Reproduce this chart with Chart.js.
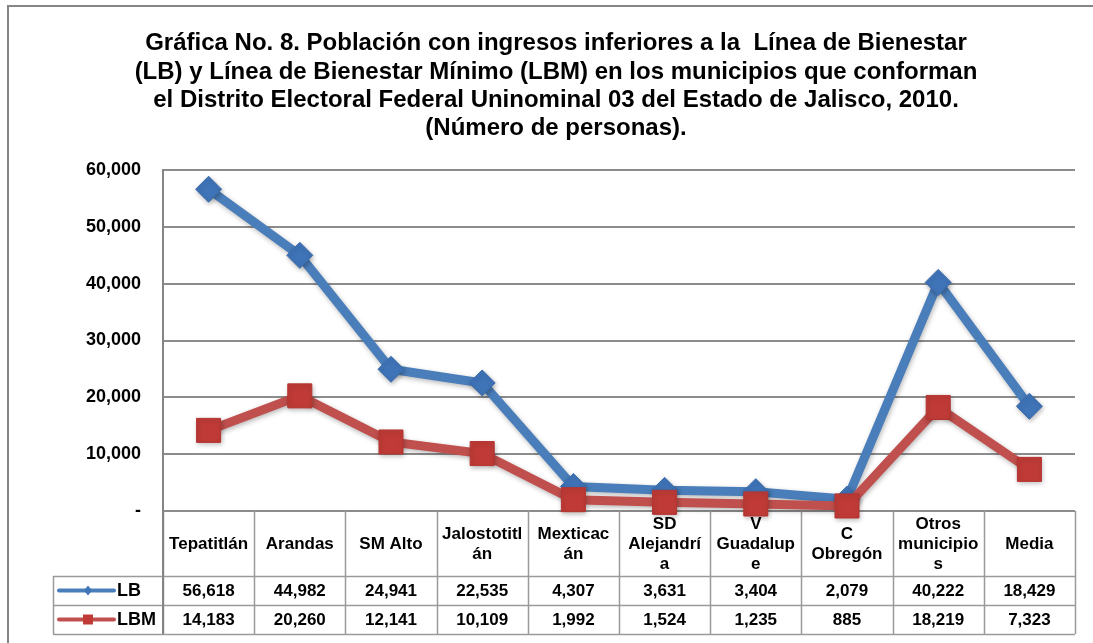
<!DOCTYPE html>
<html><head><meta charset="utf-8">
<script src="https://cdn.jsdelivr.net/npm/chart.js@4"></script>
<style>html,body{margin:0;padding:0;background:#fff}#wrap{width:1093px;height:643px;position:relative}</style>
</head><body><div id="wrap"><canvas id="c" width="1093" height="643"></canvas></div>
<script>
const titleLines = [
  "Gráfica No. 8. Población con ingresos inferiores a la  Línea de Bienestar",
  "(LB) y Línea de Bienestar Mínimo (LBM) en los municipios que conforman",
  "el Distrito Electoral Federal Uninominal 03 del Estado de Jalisco, 2010.",
  "(Número de personas)."
];
const categories = [["Tepatitlán"],["Arandas"],["SM Alto"],["Jalostotitl","án"],["Mexticac","án"],["SD","Alejandrí","a"],["V","Guadalup","e"],["C","Obregón"],["Otros","municipio","s"],["Media"]];
const seriesNames = ["LB","LBM"];
const seriesLB = [56618,44982,24941,22535,4307,3631,3404,2079,40222,18429];
const seriesLBM = [14183,20260,12141,10109,1992,1524,1235,885,18219,7323];
const yMin = 0, yMax = 60000, yStep = 10000;

const FONT = "'Liberation Sans', Arial, sans-serif";
const BLUE = '#4A7EBB', BLUE_M = '#3F74B8';
const RED = '#C0504D', RED_M = '#C03B37';
const fmt = v => v.toLocaleString('en-US');

const TABLE = {hdrBottom: 576, row1Bottom: 605, row2Bottom: 634, legendLeft: 53};

const framePlugin = {
  id: 'frame',
  beforeDraw(chart) {
    const ctx = chart.ctx;
    ctx.save();
    ctx.strokeStyle = '#858585'; ctx.lineWidth = 2;
    ctx.beginPath();
    ctx.moveTo(8, 643); ctx.lineTo(8, 6); ctx.lineTo(1093, 6);
    ctx.stroke();
    // title
    ctx.fillStyle = '#000';
    ctx.font = "bold 24px " + FONT;
    ctx.textAlign = 'center'; ctx.textBaseline = 'middle';
    const ys = [43, 72, 100, 128];
    titleLines.forEach((t, i) => ctx.fillText(t, 556, ys[i]));
    ctx.restore();
  }
};

const tablePlugin = {
  id: 'dataTable',
  beforeDatasetsDraw(chart) {
    const ctx = chart.ctx, xs = chart.scales.x, area = chart.chartArea;
    const n = categories.length;
    const w = (area.right - area.left) / n;
    ctx.save();
    ctx.strokeStyle = '#9a9a9a'; ctx.lineWidth = 1.5;
    ctx.beginPath();
    for (let i = 0; i <= n; i++) {
      const x = Math.round(area.left + i * w) + 0.5;
      ctx.moveTo(x, area.bottom); ctx.lineTo(x, TABLE.row2Bottom);
    }
    [TABLE.hdrBottom, TABLE.row1Bottom, TABLE.row2Bottom].forEach(y => {
      ctx.moveTo(TABLE.legendLeft, y + 0.5); ctx.lineTo(area.right, y + 0.5);
    });
    ctx.moveTo(TABLE.legendLeft + 0.5, TABLE.hdrBottom); ctx.lineTo(TABLE.legendLeft + 0.5, TABLE.row2Bottom);
    ctx.stroke();
    ctx.strokeStyle = '#858585'; ctx.lineWidth = 2;
    ctx.beginPath(); ctx.moveTo(area.left, area.bottom); ctx.lineTo(area.left, TABLE.row2Bottom); ctx.stroke();

    ctx.fillStyle = '#000';
    ctx.font = "bold 17px " + FONT;
    ctx.textAlign = 'center'; ctx.textBaseline = 'middle';
    const hc = (area.bottom + TABLE.hdrBottom) / 2 + 1;
    const lh = 20;
    categories.forEach((lines, i) => {
      const cx = xs.getPixelForValue(i);
      const y0 = hc - (lines.length - 1) * lh / 2;
      lines.forEach((l, j) => ctx.fillText(l, cx, y0 + j * lh));
    });
    const r1 = (TABLE.hdrBottom + TABLE.row1Bottom) / 2 + 1;
    const r2 = (TABLE.row1Bottom + TABLE.row2Bottom) / 2 + 1;
    seriesLB.forEach((v, i) => ctx.fillText(fmt(v), xs.getPixelForValue(i), r1));
    seriesLBM.forEach((v, i) => ctx.fillText(fmt(v), xs.getPixelForValue(i), r2));
    ctx.lineCap = 'round';
    ctx.lineWidth = 4;
    ctx.strokeStyle = BLUE;
    ctx.beginPath(); ctx.moveTo(59, r1 - 1); ctx.lineTo(114, r1 - 1); ctx.stroke();
    ctx.fillStyle = BLUE_M;
    ctx.beginPath(); ctx.moveTo(88, r1 - 6); ctx.lineTo(92, r1 - 1); ctx.lineTo(88, r1 + 4); ctx.lineTo(84, r1 - 1); ctx.closePath(); ctx.fill();
    ctx.strokeStyle = RED;
    ctx.beginPath(); ctx.moveTo(59, r2 - 1); ctx.lineTo(114, r2 - 1); ctx.stroke();
    ctx.fillStyle = RED_M;
    ctx.fillRect(83, r2 - 6, 10, 10);
    ctx.fillStyle = '#000';
    ctx.textAlign = 'left';
    ctx.font = "bold 18px " + FONT;
    ctx.fillText(seriesNames[0], 117, r1);
    ctx.fillText(seriesNames[1], 117, r2);
    ctx.restore();
  }
};

const shadowPlugin = {
  id: 'shadow',
  beforeDatasetDraw(chart) {
    const ctx = chart.ctx;
    ctx.save();
    ctx.shadowColor = 'rgba(0,0,0,0.28)';
    ctx.shadowBlur = 5; ctx.shadowOffsetX = 1; ctx.shadowOffsetY = 2;
  },
  afterDatasetDraw(chart) { chart.ctx.restore(); }
};

new Chart(document.getElementById('c'), {
  type: 'line',
  data: {
    labels: categories.map(c => c.join('')),
    datasets: [
      { label: seriesNames[0], data: seriesLB, borderColor: BLUE, borderWidth: 9,
        pointStyle: 'rectRot', pointRadius: 13, pointHoverRadius: 13,
        pointBackgroundColor: BLUE_M, pointBorderColor: '#3A6BAA', pointBorderWidth: 1,
        tension: 0, clip: false, order: 1 },
      { label: seriesNames[1], data: seriesLBM, borderColor: RED, borderWidth: 9,
        pointStyle: 'rect', pointRadius: 17, pointHoverRadius: 17,
        pointBackgroundColor: RED_M, pointBorderColor: '#B53531', pointBorderWidth: 1,
        tension: 0, clip: false, order: 0 }
    ]
  },
  options: {
    responsive: false, animation: false, devicePixelRatio: 1,
    layout: { padding: { top: 170, right: 18, bottom: 132, left: 0 } },
    plugins: { legend: { display: false }, title: { display: false }, tooltip: { enabled: false } },
    scales: {
      x: { display: false, offset: true },
      y: {
        min: yMin, max: yMax,
        afterFit(s) { s.width = 163; },
        ticks: { stepSize: yStep, padding: 22, color: '#000',
          font: { family: FONT, size: 18, weight: 'bold' },
          callback: v => v === 0 ? '-' : fmt(v) },
        grid: { color: '#8c8c8c', lineWidth: 2, drawTicks: false },
        border: { display: true, color: '#858585', width: 2 }
      }
    }
  },
  plugins: [framePlugin, tablePlugin, shadowPlugin]
});
</script></body></html>
